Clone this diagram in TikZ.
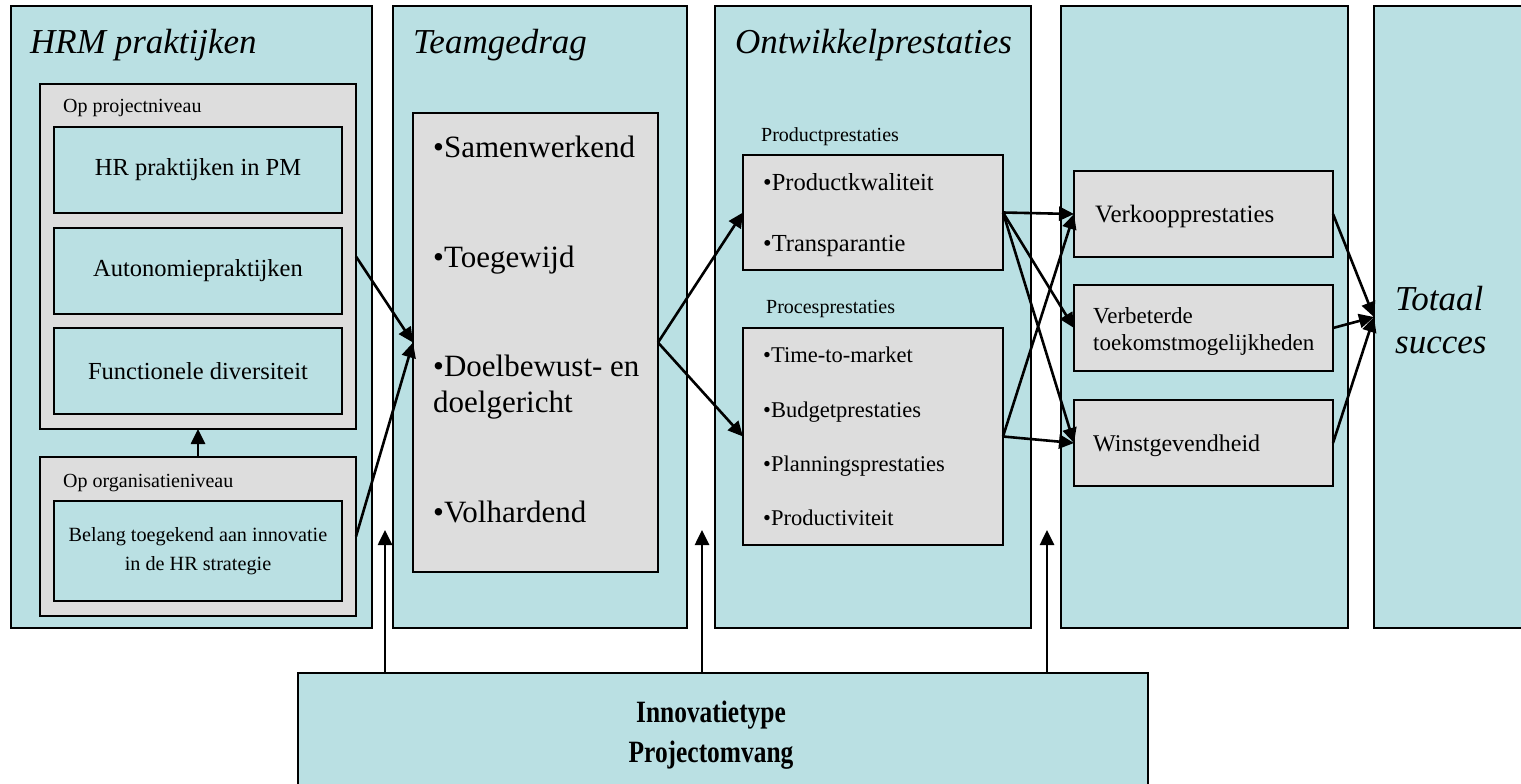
\documentclass[tikz,border=0pt]{standalone}
\usepackage{fontspec}
\setmainfont{Liberation Serif}
\newfontfamily\condfont[FakeStretch=0.82]{Liberation Serif}
\usetikzlibrary{positioning}
\usetikzlibrary{arrows.meta}

\definecolor{panelblue}{RGB}{186,224,227}
\definecolor{panelgray}{RGB}{221,221,221}

\tikzset{
    col/.style={draw, fill=panelblue, line width=2pt, inner sep=0pt, outer sep=0pt, anchor=north west},
    grp/.style={draw, fill=panelgray, line width=2pt, inner sep=0pt, outer sep=0pt, anchor=north west},
    head/.style={anchor=base west, inner sep=0pt, font=\fontsize{35}{42}\selectfont\itshape},
    txt/.style={anchor=base west, inner sep=0pt},
    arr/.style={-{Triangle[length=15pt,width=14pt]}, line width=2.6pt}
}

\begin{document}
\begin{tikzpicture}[x=1pt, y=-1pt]
    \useasboundingbox (0,0) rectangle (1521,784);

    \path (11,6) node [col, minimum width=361pt, minimum height=622pt] (hrm) {};
    \path (393,6) node [col, minimum width=294pt, minimum height=622pt] (team) {};
    \path (715,6) node [col, minimum width=316pt, minimum height=622pt] (ontw) {};
    \path (1061,6) node [col, minimum width=287pt, minimum height=622pt] (res) {};
    \path (1374,6) node [col, minimum width=170pt, minimum height=622pt] (tot) {};
    \path (298,673) node [col, minimum width=850pt, minimum height=140pt] (inno) {};

    \path (30,54) node [head] (hrmt) {HRM praktijken};
    \path (413,54) node [head] (teamt) {Teamgedrag};
    \path (735,54) node [head] (ontwt) {Ontwikkelprestaties};

    % HRM praktijken
    \path (40,84) node [grp, minimum width=316pt, minimum height=345pt] (proj) {};
    \path (63,113) node [txt, font=\fontsize{20}{24}\selectfont] (projt) {Op projectniveau};
    \path (54,127) node [col, minimum width=288pt, minimum height=86pt, font=\fontsize{24.5}{29}\selectfont] (hrpm) {HR praktijken in PM};
    \path (54,228) node [col, minimum width=288pt, minimum height=86pt, font=\fontsize{24.5}{29}\selectfont] (auto) {Autonomiepraktijken};
    \path (54,328) node [col, minimum width=288pt, minimum height=86pt, font=\fontsize{24.5}{29}\selectfont] (func) {Functionele diversiteit};
    \path (40,457) node [grp, minimum width=316pt, minimum height=159pt] (org) {};
    \path (63,487) node [txt, font=\fontsize{20}{24}\selectfont] (orgt) {Op organisatieniveau};
    \path (54,501) node [col, minimum width=288pt, minimum height=100pt, align=center, font=\fontsize{20.2}{29}\selectfont] (belang) {Belang toegekend aan innovatie\\in de HR strategie};
    \draw [arr] (org.north) -- (proj.south);

    % Teamgedrag
    \path (413,113) node [grp, minimum width=245pt, minimum height=459pt] (gedrag) {};
    \path (433,157) node [txt, font=\fontsize{31}{36}\selectfont] (samen) {•Samenwerkend};
    \path (433,267) node [txt, font=\fontsize{31}{36}\selectfont] (toeg) {•Toegewijd};
    \path (433,376) node [txt, font=\fontsize{31}{36}\selectfont] (doel) {•Doelbewust- en};
    \path (433,412) node [txt, font=\fontsize{31}{36}\selectfont] (doelg) {doelgericht};
    \path (433,522) node [txt, font=\fontsize{31}{36}\selectfont] (volh) {•Volhardend};
    \draw [arr] (proj.east) -- (gedrag.west);
    \draw [arr] (org.east) -- (gedrag.west);

    % Ontwikkelprestaties
    \path (761,141) node [txt, font=\fontsize{20}{24}\selectfont] (prodt) {Productprestaties};
    \path (743,155) node [grp, minimum width=260pt, minimum height=115pt] (prod) {};
    \path (763,190) node [txt, font=\fontsize{24.5}{29}\selectfont] (kwal) {•Productkwaliteit};
    \path (763,251) node [txt, font=\fontsize{24.5}{29}\selectfont] (transp) {•Transparantie};
    \path (766,313) node [txt, font=\fontsize{20}{24}\selectfont] (proct) {Procesprestaties};
    \path (743,328) node [grp, minimum width=260pt, minimum height=217pt] (proc) {};
    \path (763,362) node [txt, font=\fontsize{22.5}{27}\selectfont] (ttm) {•Time-to-market};
    \path (763,417) node [txt, font=\fontsize{22.5}{27}\selectfont] (budget) {•Budgetprestaties};
    \path (763,471) node [txt, font=\fontsize{22.5}{27}\selectfont] (plan) {•Planningsprestaties};
    \path (763,525) node [txt, font=\fontsize{22.5}{27}\selectfont] (prodv) {•Productiviteit};
    \draw [arr] (gedrag.east) -- (prod.west);
    \draw [arr] (gedrag.east) -- (proc.west);

    % resultaten
    \path (1074,171) node [grp, minimum width=259pt, minimum height=86pt] (verk) {};
    \path (1095,222) node [txt, font=\fontsize{25}{30}\selectfont] (verkt) {Verkoopprestaties};
    \path (1074,285) node [grp, minimum width=259pt, minimum height=86pt] (verb) {};
    \path (1093,323) node [txt, font=\fontsize{23}{27}\selectfont] (verbt) {Verbeterde};
    \path (1093,350) node [txt, font=\fontsize{23}{27}\selectfont] (verbt2) {toekomstmogelijkheden};
    \path (1074,400) node [grp, minimum width=259pt, minimum height=86pt] (winst) {};
    \path (1093,451) node [txt, font=\fontsize{24}{29}\selectfont] (winstt) {Winstgevendheid};
    \draw [arr] (prod.east) -- (verk.west);
    \draw [arr] (prod.east) -- (verb.west);
    \draw [arr] (prod.east) -- (winst.west);
    \draw [arr] (proc.east) -- (verk.west);
    \draw [arr] (proc.east) -- (winst.west);

    % Totaal succes
    \path (1395,310) node [txt, font=\fontsize{35}{42}\selectfont\itshape] (totaal) {Totaal};
    \path (1395,353) node [txt, font=\fontsize{35}{42}\selectfont\itshape] (succes) {succes};
    \draw [arr] (verk.east) -- (tot.west);
    \draw [arr] (verb.east) -- (tot.west);
    \draw [arr] (winst.east) -- (tot.west);

    % Innovatietype
    \path (711,722) node [anchor=base, inner sep=0pt, font=\fontsize{31}{40}\condfont\bfseries] (innot) {Innovatietype};
    \path (711,762) node [anchor=base, inner sep=0pt, font=\fontsize{31}{40}\condfont\bfseries] (omv) {Projectomvang};
    \coordinate (m1) at (385,530);
    \coordinate (m2) at (702,530);
    \coordinate (m3) at (1047,530);
    \draw [arr] (m1 |- inno.north) -- (m1);
    \draw [arr] (m2 |- inno.north) -- (m2);
    \draw [arr] (m3 |- inno.north) -- (m3);
\end{tikzpicture}
\end{document}
